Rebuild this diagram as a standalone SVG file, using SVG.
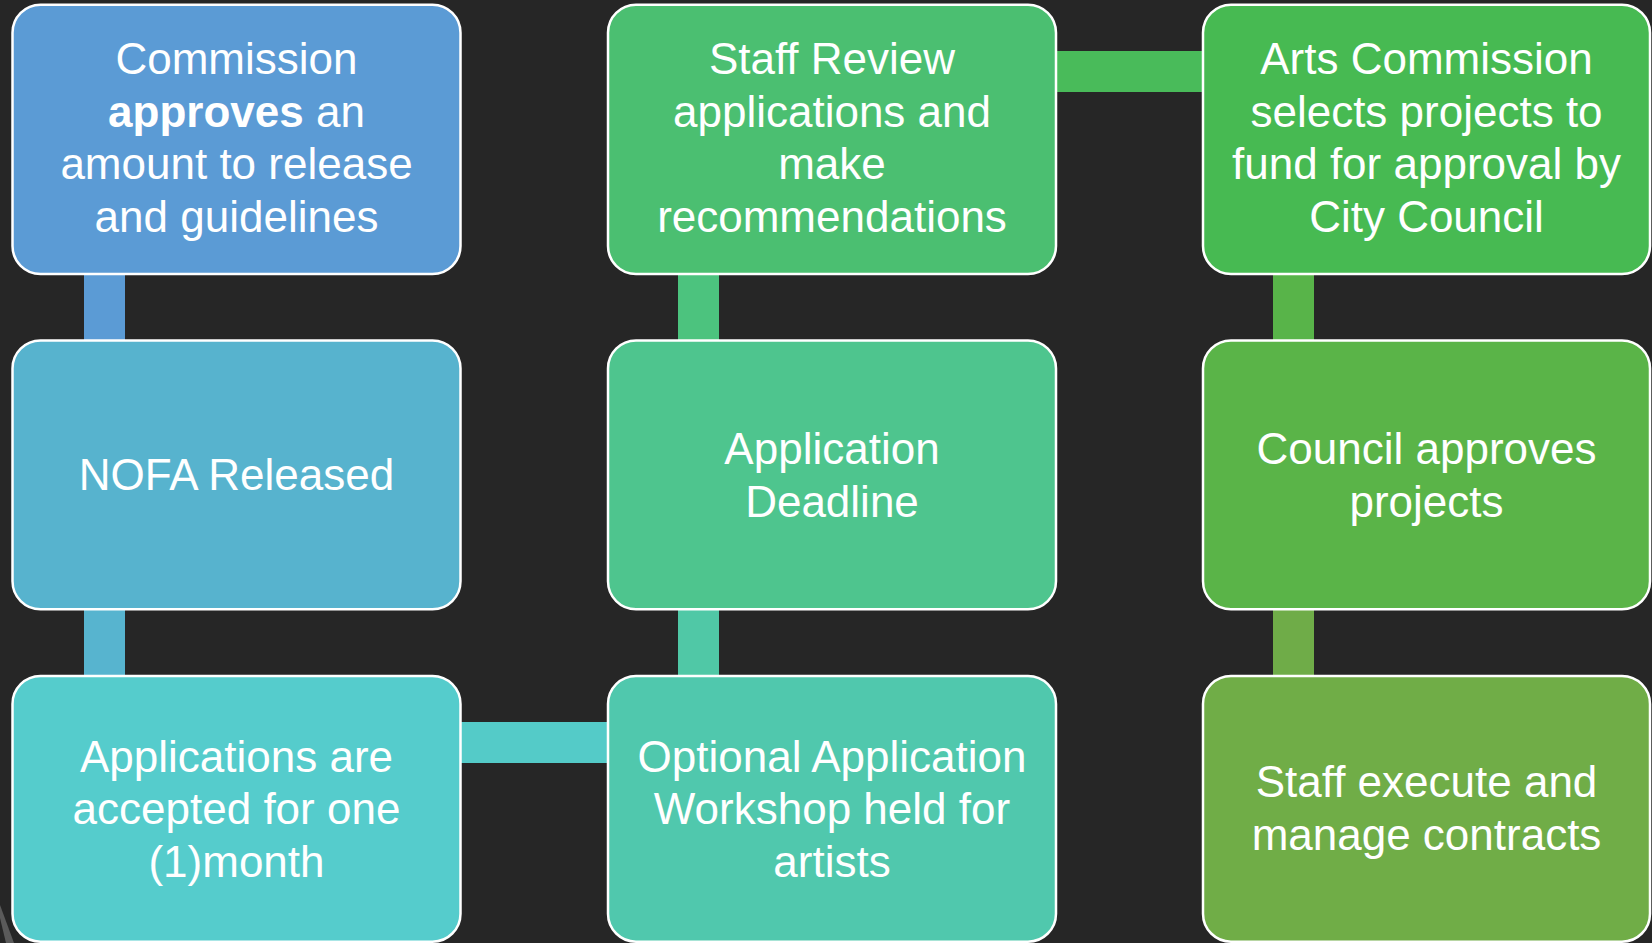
<svg xmlns="http://www.w3.org/2000/svg" width="1652" height="943" viewBox="0 0 1652 943">
<style>
.box{stroke:#FFFFFF;stroke-width:2.5}
.t{font-family:"Liberation Sans",Arial,sans-serif;font-size:44px;fill:#FFFFFF;text-anchor:middle}
.b{font-weight:bold}
</style>
<rect x="0" y="0" width="1652" height="943" fill="#262626"/>
<polygon points="0,918 6,943 14,943 0,905" fill="#5a5a5a"/>
<g id="connectors">
<rect x="84" y="272" width="41" height="70" fill="#5B9BD5"/>
<rect x="84" y="607" width="41" height="71" fill="#57B4CF"/>
<rect x="458" y="722" width="152" height="41" fill="#54CBC8"/>
<rect x="678" y="607" width="41" height="71" fill="#50C8A6"/>
<rect x="678" y="272" width="41" height="70" fill="#4CC37E"/>
<rect x="1054" y="51" width="151" height="41" fill="#49BB5A"/>
<rect x="1273" y="272" width="41" height="70" fill="#58B449"/>
<rect x="1273" y="607" width="41" height="71" fill="#6FAC48"/>
</g>
<g id="n1">
<rect class="box" x="12.5" y="4.7" width="448" height="269.3" rx="28" fill="#5B9BD5"/>
<text class="t" x="236.5" y="74">Commission</text>
<text class="t" x="236.5" y="126.5"><tspan class="b">approves</tspan> an</text>
<text class="t" x="236.5" y="179">amount to release</text>
<text class="t" x="236.5" y="231.5">and guidelines</text>
</g>
<g id="n2">
<rect class="box" x="12.5" y="340.5" width="448" height="268.8" rx="28" fill="#57B3CE"/>
<text class="t" x="236.5" y="490">NOFA Released</text>
</g>
<g id="n3">
<rect class="box" x="12.5" y="676" width="448" height="265.7" rx="28" fill="#55CCCC"/>
<text class="t" x="236.5" y="771.7">Applications are</text>
<text class="t" x="236.5" y="824">accepted for one</text>
<text class="t" x="236.5" y="876.5">(1)month</text>
</g>
<g id="n4">
<rect class="box" x="608" y="676" width="448" height="265.7" rx="28" fill="#50C8AD"/>
<text class="t" x="832" y="771.7">Optional Application</text>
<text class="t" x="832" y="824">Workshop held for</text>
<text class="t" x="832" y="876.5">artists</text>
</g>
<g id="n5">
<rect class="box" x="608" y="340.5" width="448" height="268.8" rx="28" fill="#4EC58E"/>
<text class="t" x="832" y="464">Application</text>
<text class="t" x="832" y="516.5">Deadline</text>
</g>
<g id="n6">
<rect class="box" x="608" y="4.7" width="448" height="269.3" rx="28" fill="#4BBF71"/>
<text class="t" x="832" y="74">Staff Review</text>
<text class="t" x="832" y="126.5">applications and</text>
<text class="t" x="832" y="179">make</text>
<text class="t" x="832" y="231.5">recommendations</text>
</g>
<g id="n7">
<rect class="box" x="1203" y="4.7" width="447" height="269.3" rx="28" fill="#47BA52"/>
<text class="t" x="1426.5" y="74">Arts Commission</text>
<text class="t" x="1426.5" y="126.5">selects projects to</text>
<text class="t" x="1426.5" y="179">fund for approval by</text>
<text class="t" x="1426.5" y="231.5">City Council</text>
</g>
<g id="n8">
<rect class="box" x="1203" y="340.5" width="447" height="268.8" rx="28" fill="#5AB448"/>
<text class="t" x="1426.5" y="464">Council approves</text>
<text class="t" x="1426.5" y="516.5">projects</text>
</g>
<g id="n9">
<rect class="box" x="1203" y="676" width="447" height="265.7" rx="28" fill="#70AD47"/>
<text class="t" x="1426.5" y="797">Staff execute and</text>
<text class="t" x="1426.5" y="849.5">manage contracts</text>
</g>
</svg>
